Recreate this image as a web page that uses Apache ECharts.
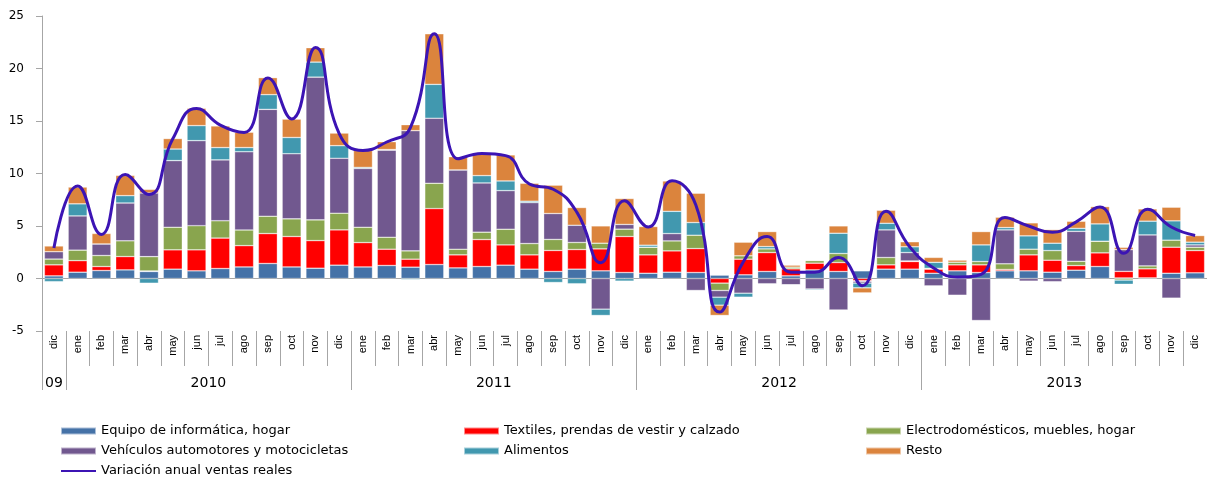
<!DOCTYPE html>
<html>
<head>
<meta charset="utf-8">
<script src="https://cdn.jsdelivr.net/npm/echarts@6.0.0/dist/echarts.min.js"></script>
<style>
    html, body { margin: 0; padding: 0; background: #fff; }
    #chart { width: 1207px; height: 479px; }
</style>
</head>
<body>
<div id="chart"></div>
<script>
var months = ['dic',
    'ene', 'feb', 'mar', 'abr', 'may', 'jun', 'jul', 'ago', 'sep', 'oct', 'nov', 'dic',
    'ene', 'feb', 'mar', 'abr', 'may', 'jun', 'jul', 'ago', 'sep', 'oct', 'nov', 'dic',
    'ene', 'feb', 'mar', 'abr', 'may', 'jun', 'jul', 'ago', 'sep', 'oct', 'nov', 'dic',
    'ene', 'feb', 'mar', 'abr', 'may', 'jun', 'jul', 'ago', 'sep', 'oct', 'nov', 'dic'];

// años: etiqueta, posición (en meses) y cortes entre años
var yearLabels = ['09', '2010', '2011', '2012', '2013'];
var yearLabelPos = [0.5, 7, 19, 31, 43];
var yearBreaks = [0, 1, 13, 25, 37, 49];

var yTicks = [-5, 0, 5, 10, 15, 20, 25];

var equipo = [0.25,
    0.6, 0.76, 0.82, 0.67, 0.89, 0.73, 0.95, 1.1, 1.43, 1.1, 0.98, 1.27,
    1.1, 1.24, 1.08, 1.33, 1.01, 1.14, 1.27, 0.89, 0.67, 0.89, 0.73, 0.57,
    0.5, 0.6, 0.57, 0.32, 0.35, 0.67, 0.25, 0.82, 0.67, 0.73, 0.89, 0.89,
    0.5, 0.73, 0.57, 0.73, 0.73, 0.6, 0.79, 1.14, 0.05, 0.06, 0.5, 0.54];

var textiles = [1.05,
    1.1, 0.38, 1.27, 0.05, 1.84, 2.0, 2.9, 2.03, 2.85, 2.9, 2.63, 3.36,
    2.32, 1.55, 0.76, 5.33, 1.24, 2.57, 1.93, 1.36, 2.0, 1.87, 2.09, 3.43,
    1.75, 2.03, 2.28, -0.44, 1.49, 1.8, 0.67, 0.64, 0.85, -0.22, 0.41, 0.73,
    0.39, 0.57, 0.73, 0.13, 1.52, 1.14, 0.44, 1.3, 0.63, 0.86, 2.48, 2.12];

var electro = [0.55,
    1.0, 1.05, 1.5, 1.36, 2.15, 2.3, 1.65, 1.49, 1.65, 1.68, 1.97, 1.59,
    1.46, 1.14, 0.79, 2.41, 0.54, 0.7, 1.49, 1.08, 1.05, 0.67, 0.54, 0.7,
    0.73, 0.95, 1.27, -0.7, 0.32, 0.35, 0.16, 0.25, 0.86, -0.05, 0.7, 0.05,
    0.08, 0.25, 0.32, 0.54, 0.54, 0.92, 0.41, 1.11, -0.15, 0.28, 0.67, 0.32];

var vehiculos = [0.7,
    3.26, 1.1, 3.6, 6.06, 6.35, 8.1, 5.8, 7.45, 10.18, 6.2, 13.6, 5.23,
    5.6, 8.3, 11.45, 6.19, 7.55, 4.69, 3.68, 3.9, 2.47, 1.64, -2.92, 0.45,
    0, 0.7, -1.14, -0.64, -1.4, -0.5, -0.6, -1.0, -3.0, -0.17, 2.63, 0.8,
    -0.7, -1.6, -4.0, 3.23, -0.25, -0.3, 2.85, 0, 2.07, 2.95, -1.87, 0.22];

var alimentos = [-0.3,
    1.15, 0, 0.7, -0.45, 1.1, 1.43, 1.17, 0.4, 1.4, 1.55, 1.43, 1.2,
    0.1, 0.05, -0.1, 3.23, 0, 0.7, 0.92, 0.13, -0.38, -0.5, -0.6, -0.25,
    0.19, 2.12, 1.21, -0.76, -0.38, 0.22, 0, -0.1, 1.93, -0.45, 0.63, 0.55,
    0.57, 0, 1.58, 0.22, 1.27, 0.7, 0.29, 1.65, -0.4, 1.31, 1.84, 0.26];

var resto = [0.55,
    1.6, 1.0, 1.93, 0.35, 1.0, 1.65, 2.06, 1.46, 1.62, 1.75, 1.37, 1.2,
    1.62, 0.75, 0.57, 4.82, 1.26, 2.1, 2.48, 1.71, 2.7, 1.69, 1.65, 2.47,
    1.78, 2.89, 2.79, -0.98, 1.3, 1.43, 0.19, 0.05, 0.7, -0.48, 1.24, 0.48,
    0.47, 0.2, 1.27, 0.99, 1.24, 1.3, 0.67, 1.65, 0.22, 1.17, 1.3, 0.63];

var variacion = [2.9,
    8.8, 4.2, 9.9, 8.0, 13.3, 16.2, 14.6, 13.9, 19.1, 15.2, 22.0, 13.8,
    12.2, 13.0, 14.4, 23.3, 11.4, 11.9, 11.7, 9.0, 8.5, 6.3, 1.5, 7.4,
    4.9, 9.3, 7.0, -3.2, 1.6, 4.0, 0.6, 0.6, 2.0, -0.7, 6.4, 3.0,
    1.0, 0.15, 0.4, 5.8, 5.0, 4.4, 5.4, 6.8, 2.4, 6.6, 4.9, 4.1];

var myChart = echarts.init(document.getElementById('chart'));

var axisGray = '#a6a6a6';
var lineColor = '#3c14b4';
var legendText = { fontFamily: 'DejaVu Sans', fontSize: 13, lineHeight: 14, color: '#000' };

function barSeries(name, data, color) {
    return {
        name: name,
        type: 'bar',
        stack: 'total',
        data: data,
        barWidth: '80%',
        itemStyle: {
            color: color,
            borderColor: 'rgba(255,255,255,0.55)',
            borderWidth: 0.6
        }
    };
}

function legendBox(left, items) {
    return {
        left: left, top: 424, orient: 'vertical', padding: 0, itemGap: 6,
        itemWidth: 35, itemHeight: 7, textStyle: legendText,
        data: items
    };
}

var option = {
    animation: false,
    grid: { left: 42, right: -6, top: 16, bottom: 148, containLabel: false },
    legend: [
        legendBox(60, [
            { name: 'Equipo de informática, hogar', icon: 'rect' },
            { name: 'Vehículos automotores y motocicletas', icon: 'rect' },
            { name: 'Variación anual ventas reales', itemStyle: { opacity: 0 } }
        ]),
        legendBox(463, [
            { name: 'Textiles, prendas de vestir y calzado', icon: 'rect' },
            { name: 'Alimentos', icon: 'rect' }
        ]),
        legendBox(865, [
            { name: 'Electrodomésticos, muebles, hogar', icon: 'rect' },
            { name: 'Resto', icon: 'rect' }
        ])
    ],
    xAxis: [
        {
            // eje en cero, solo marcas cortas
            type: 'category',
            data: months,
            position: 'bottom',
            axisLine: { onZero: true, lineStyle: { color: axisGray } },
            axisTick: { length: 4, lineStyle: { color: axisGray } },
            axisLabel: { show: false }
        },
        {
            // meses
            type: 'category',
            data: months,
            position: 'bottom',
            axisLine: { show: false, onZero: false },
            axisTick: { show: true, length: 35, lineStyle: { color: axisGray } },
            axisLabel: {
                rotate: 90, margin: 4, color: '#000',
                fontFamily: 'Liberation Sans', fontSize: 11
            }
        },
        {
            // años
            type: 'value',
            min: 0,
            max: months.length,
            position: 'bottom',
            axisLine: { show: false, onZero: false },
            splitLine: { show: false },
            axisTick: {
                show: true, length: 59, customValues: yearBreaks,
                lineStyle: { color: axisGray }
            },
            axisLabel: {
                customValues: yearLabelPos, margin: 45, color: '#000',
                fontFamily: 'DejaVu Sans', fontSize: 14,
                formatter: function (v) {
                    var i = yearLabelPos.indexOf(v);
                    return i >= 0 ? yearLabels[i] : '';
                }
            }
        }
    ],
    yAxis: {
        type: 'value',
        min: yTicks[0],
        max: yTicks[yTicks.length - 1],
        interval: 5,
        axisLine: { show: true, lineStyle: { color: axisGray } },
        axisTick: { show: true, length: 6, lineStyle: { color: axisGray } },
        splitLine: { show: false },
        axisLabel: {
            margin: 18, color: '#000',
            fontFamily: 'DejaVu Sans', fontSize: 12
        }
    },
    series: [
        barSeries('Equipo de informática, hogar', equipo, '#4572a7'),
        barSeries('Textiles, prendas de vestir y calzado', textiles, '#ff0000'),
        barSeries('Electrodomésticos, muebles, hogar', electro, '#89a54e'),
        barSeries('Vehículos automotores y motocicletas', vehiculos, '#71588f'),
        barSeries('Alimentos', alimentos, '#4198af'),
        barSeries('Resto', resto, '#db843d'),
        {
            name: 'Variación anual ventas reales',
            type: 'line',
            data: variacion,
            smooth: 0.5,
            symbol: 'none',
            z: 5,
            lineStyle: { color: lineColor, width: 3 },
            itemStyle: { color: lineColor }
        }
    ]
};

myChart.setOption(option);
</script>
</body>
</html>
